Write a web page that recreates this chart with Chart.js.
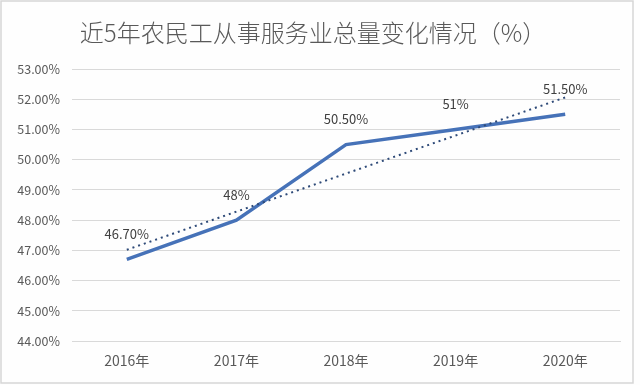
<!DOCTYPE html>
<html><head><meta charset="utf-8">
<script src="https://cdn.jsdelivr.net/npm/chart.js@4/dist/chart.umd.min.js"></script>
<style>html,body{margin:0;padding:0;background:#fff;}#w{width:640px;height:385px;}</style>
</head><body><div id="w"><canvas id="c" width="640" height="385"></canvas></div>
<script>
const title = '近5年农民工从事服务业总量变化情况（%）';
const categories = ['2016年','2017年','2018年','2019年','2020年'];
const values = [46.7, 48, 50.5, 51, 51.5];
const valueLabels = ['46.70%','48%','50.50%','51%','51.50%'];
const trend = [47.02, 48.28, 49.54, 50.80, 52.06];
const yMin = 44, yMax = 53, yStep = 1;

const FONT = '"Noto Sans CJK SC", "Noto Sans", sans-serif';

const frame = {
  id: 'frame',
  beforeDraw(chart) {
    const ctx = chart.ctx;
    ctx.save();
    ctx.fillStyle = '#fefefe';
    ctx.fillRect(0, 0, chart.width, chart.height);
    ctx.strokeStyle = '#d6d6d6';
    ctx.lineWidth = 1.5;
    ctx.strokeRect(1, 1, 632, 382);
    ctx.restore();
  },
  afterDraw(chart) {
    const ctx = chart.ctx;
    ctx.save();
    ctx.fillStyle = '#595959';
    ctx.font = '300 24px ' + FONT;
    ctx.textAlign = 'center';
    ctx.textBaseline = 'middle';
    ctx.fillText(title, 313, 33);
    const meta = chart.getDatasetMeta(0);
    ctx.font = '13px ' + FONT;
    ctx.fillStyle = '#404040';
    meta.data.forEach((pt, i) => {
      ctx.fillText(valueLabels[i], pt.x, pt.y - 25);
    });
    ctx.restore();
  }
};

new Chart(document.getElementById('c'), {
  type: 'line',
  data: {
    labels: categories,
    datasets: [
      { data: values, borderColor: '#4672b8', borderWidth: 3.5, pointRadius: 0, tension: 0, order: 1 },
      { data: trend, borderColor: '#2e4a78', borderWidth: 2, borderDash: [2, 4], borderCapStyle: 'butt', pointRadius: 0, tension: 0, order: 0 }
    ]
  },
  options: {
    responsive: false,
    animation: false,
    layout: { padding: { top: 69, left: 0, right: 20, bottom: 0 } },
    plugins: { legend: { display: false }, title: { display: false }, tooltip: { enabled: false } },
    scales: {
      x: {
        offset: true,
        grid: { display: false, drawTicks: false },
        border: { display: true, color: '#d9d9d9', width: 1 },
        ticks: { color: '#595959', font: { size: 14, family: FONT }, padding: 11, maxRotation: 0 },
        afterFit(a) { a.height = 44; }
      },
      y: {
        min: yMin, max: yMax,
        grid: { color: '#d9d9d9', drawTicks: false },
        border: { display: false },
        ticks: { stepSize: yStep, color: '#595959', font: { size: 12.5, family: FONT }, padding: 12,
          callback: v => v.toFixed(2) + '%' },
        afterFit(a) { a.width = 72; }
      }
    }
  },
  plugins: [frame]
});
</script></body></html>
